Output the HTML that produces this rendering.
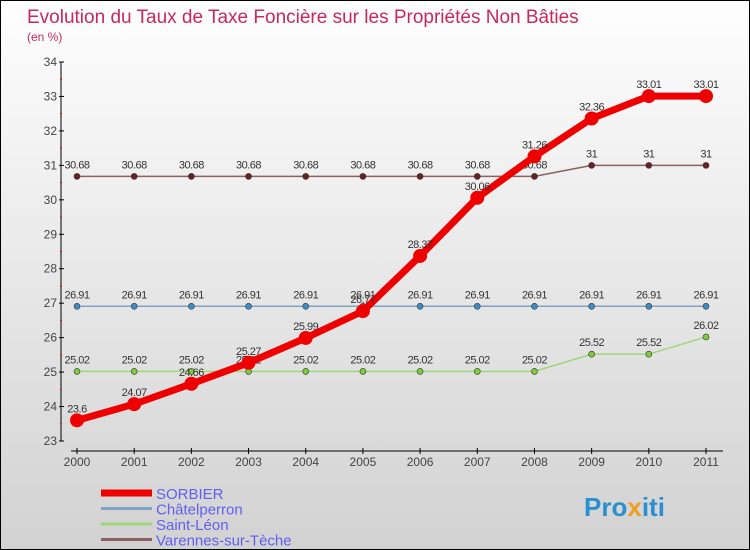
<!DOCTYPE html>
<html><head><meta charset="utf-8"><style>
body{margin:0}
#c{width:750px;height:550px;position:relative;overflow:hidden;box-sizing:border-box;border:1px solid #000;background:linear-gradient(#fefefe,#d2d2d2);font-family:"Liberation Sans",sans-serif}
</style></head><body>
<div id="c">
<svg id="s" width="750" height="550" style="position:absolute;left:0;top:0">
<text x="26" y="22" font-size="19" fill="#c8285a">Evolution du Taux de Taxe Foncière sur les Propriétés Non Bâties</text>
<text x="26" y="40" font-size="12" fill="#c8285a">(en %)</text>
<g id="axes"></g><g id="series"></g><g id="legend"></g>
<text x="583" y="515" font-size="26" font-weight="bold" fill="#2a8fd0">Pro<tspan fill="#f0a020">x</tspan>iti</text>
</svg></div>
<script>
const years=[2000,2001,2002,2003,2004,2005,2006,2007,2008,2009,2010,2011];
const yTicks=[23,24,25,26,27,28,29,30,31,32,33,34];
const sorbier=[23.6,24.07,24.66,25.27,25.99,26.77,28.37,30.06,31.26,32.36,33.01,33.01];
const sorbierLabels=["23.6","24.07","24.66","25.27","25.99","26.77","28.37","30.06","31.26","32.36","33.01","33.01"];
const chatel=[26.91,26.91,26.91,26.91,26.91,26.91,26.91,26.91,26.91,26.91,26.91,26.91];
const chatelLabels=["26.91","26.91","26.91","26.91","26.91","26.91","26.91","26.91","26.91","26.91","26.91","26.91"];
const leon=[25.02,25.02,25.02,25.02,25.02,25.02,25.02,25.02,25.02,25.52,25.52,26.02];
const leonLabels=["25.02","25.02","25.02","25.02","25.02","25.02","25.02","25.02","25.02","25.52","25.52","26.02"];
const varennes=[30.68,30.68,30.68,30.68,30.68,30.68,30.68,30.68,30.68,31,31,31];
const varennesLabels=["30.68","30.68","30.68","30.68","30.68","30.68","30.68","30.68","30.68","31","31","31"];
const seriesNames=["SORBIER","Châtelperron","Saint-Léon","Varennes-sur-Tèche"];
const NS="http://www.w3.org/2000/svg";
function xs(i){return 76+i*(705-76)/(years.length-1);}
function ys(v){return 440-(v-23)*(440-61)/11;}
function mk(tag,attrs,parent){const e=document.createElementNS(NS,tag);for(const k in attrs)e.setAttribute(k,attrs[k]);parent.appendChild(e);return e;}
const ax=document.getElementById('axes');
let yl=mk('line',{x1:60,y1:61,x2:60,y2:440,stroke:'#000','stroke-width':1},ax);


yTicks.forEach((t,i)=>{
 mk('line',{x1:58,y1:ys(t),x2:63,y2:ys(t),stroke:'#000'},ax);
 if(i<yTicks.length-1) mk('line',{x1:59,y1:ys(t+0.5),x2:61,y2:ys(t+0.5),stroke:'#e00'},ax);
 const tx=mk('text',{x:56,y:ys(t)+4,'text-anchor':'end','font-size':12,fill:'#444'},ax);
 tx.textContent=t;
 
 
});
let xl=mk('line',{x1:70,y1:450,x2:722,y2:450,stroke:'#000'},ax);


years.forEach((y,i)=>{
 mk('line',{x1:xs(i),y1:447,x2:xs(i),y2:453,stroke:'#000'},ax);
 const tx=mk('text',{x:xs(i),y:465,'text-anchor':'middle','font-size':12,fill:'#444'},ax);
 tx.textContent=y;
 
 
});
const sg=document.getElementById('series');
function draw(vals,labels,color,dot,w,r,name){
 const g=mk('g',{},sg);
 
 
 mk('polyline',{points:vals.map((v,i)=>xs(i)+','+ys(v)).join(' '),fill:'none',stroke:color,'stroke-width':w,'stroke-linejoin':'round'},g);
 vals.forEach((v,i)=>{
  const c=mk('circle',{cx:xs(i),cy:ys(v),r:r,fill:dot,stroke:'#333','stroke-width':r>4?0:0.6},g);
  
  
  const t=mk('text',{x:xs(i),y:ys(v)-8,'text-anchor':'middle','font-size':11,fill:'#333','letter-spacing':'-0.5'},g);
  t.textContent=labels[i];
  
  
 });
}
draw(chatel,chatelLabels,'#7fa3c4','#3d8cc8',1.5,3,'chatelperron-series');
draw(leon,leonLabels,'#9fd67a','#7ccc3c',1.5,3,'saint-leon-series');
draw(varennes,varennesLabels,'#8c6060','#6a2020',1.5,3,'varennes-series');
draw(sorbier,sorbierLabels,'#ee0000','#ee0000',7,7,'sorbier-series');
const lg=document.getElementById('legend');
const lc=['#ee0000','#7fa3c4','#9fd67a','#8c6060'],lw=[7,3,3,3];
seriesNames.forEach((n,i)=>{
 const y=492+i*15.5;
 const g=mk('g',{},lg);
 
 
 mk('line',{x1:100,y1:y,x2:151,y2:y,stroke:lc[i],'stroke-width':lw[i]},g);
 const t=mk('text',{x:155,y:y+6,'font-size':15,fill:'#6060f0'},g);
 t.textContent=n;
});
</script>
</body></html>
